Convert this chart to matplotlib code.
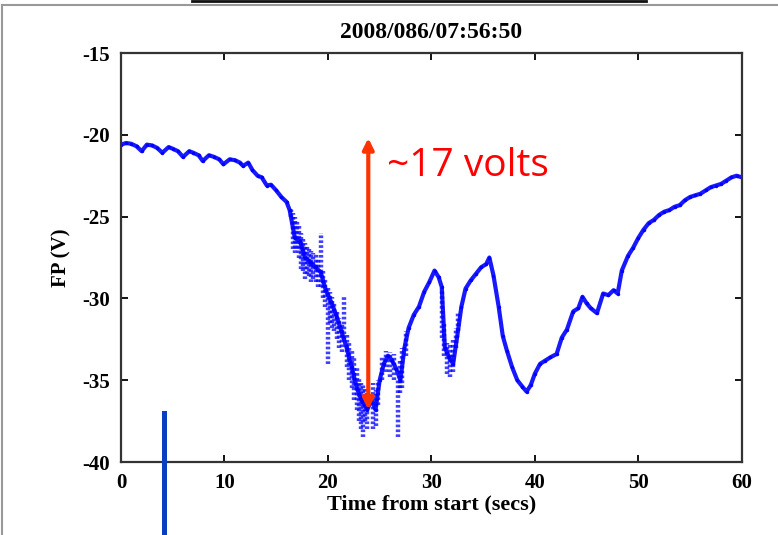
import matplotlib
matplotlib.use("Agg")
import matplotlib.pyplot as plt
from matplotlib.lines import Line2D
from matplotlib.patches import Rectangle

plt.rcParams.update({"font.family": "Liberation Serif", "font.weight": "bold",
                     "axes.linewidth": 1.6, "axes.edgecolor": "#333333",
                     "axes.unicode_minus": False})

# FP 主迹线
t_trace = [0.0, 0.5, 1.0, 1.5, 2.0, 2.5, 3.0, 3.5, 4.0, 4.6, 5.0, 5.5, 6.0, 6.6, 7.0, 7.5, 7.9,
           8.5, 9.0, 9.5, 9.9, 10.5, 11.0, 11.5, 11.8, 12.3, 12.7, 13.2, 13.6, 14.1, 14.5, 15.0,
           15.5, 16.0, 16.3, 16.8, 17.3, 17.8, 18.3, 18.8, 19.3, 19.8, 20.3, 20.8, 21.3, 21.8,
           22.3, 22.8, 23.3, 23.8, 24.2, 24.6, 25.0, 25.4, 25.8, 26.2, 26.6, 27.0, 27.4, 27.8,
           28.3, 28.8, 29.3, 29.8, 30.3, 30.7, 31.0, 31.3, 31.7, 32.1, 32.5, 32.9, 33.3, 33.8,
           34.3, 34.8, 35.3, 35.6, 36.0, 36.5, 36.9, 37.3, 37.8, 38.3, 38.8, 39.2, 39.6, 40.0,
           40.5, 41.0, 41.5, 42.1, 42.6, 43.1, 43.7, 44.2, 44.6, 45.0, 45.4, 46.0, 46.6, 47.1,
           47.6, 48.0, 48.4, 49.0, 49.5, 50.0, 50.5, 51.0, 51.5, 52.0, 52.5, 53.0, 53.5, 54.0,
           54.5, 55.0, 55.5, 56.0, 56.5, 57.0, 57.5, 58.0, 58.5, 59.0, 59.5, 60.0]
v_trace = [-20.6, -20.5, -20.55, -20.7, -21.0, -20.6, -20.65, -20.8, -21.1, -20.75, -20.85, -21.0,
           -21.35, -21.0, -21.1, -21.25, -21.6, -21.25, -21.35, -21.5, -21.8, -21.5, -21.55, -21.7,
           -21.9, -21.7, -22.15, -22.5, -22.6, -23.1, -23.05, -23.4, -23.8, -24.1, -24.6, -26.3,
           -26.5, -27.5, -27.8, -28.1, -28.4, -29.5, -30.2, -31.0, -32.0, -33.0, -34.2, -35.5,
           -36.3, -36.8, -36.2, -36.8, -35.0, -34.0, -33.5, -33.8, -34.3, -35.0, -33.0, -31.8,
           -31.0, -30.5, -29.6, -29.0, -28.3, -28.7, -29.3, -33.0, -33.6, -34.0, -32.3, -30.5,
           -29.4, -28.9, -28.5, -28.1, -27.9, -27.5, -28.6, -30.5, -32.3, -33.2, -34.2, -35.0,
           -35.4, -35.7, -35.3, -34.6, -34.0, -33.8, -33.6, -33.4, -32.4, -31.9, -30.8, -30.6,
           -29.9, -30.3, -30.6, -30.9, -29.7, -29.8, -29.5, -29.7, -28.3, -27.4, -26.9, -26.3,
           -25.8, -25.4, -25.2, -24.9, -24.7, -24.6, -24.4, -24.3, -24.0, -23.8, -23.7, -23.6,
           -23.4, -23.2, -23.1, -23.0, -22.8, -22.6, -22.5, -22.6]

# 噪声段的散点上下沿
t_spread = [16.4, 16.6, 16.8, 17.0, 17.2, 17.4, 17.6, 17.8, 18.0, 18.2, 18.4, 18.6, 18.8, 19.0,
            19.3, 19.5, 19.7, 20.0, 20.2, 20.4, 20.6, 20.9, 21.1, 21.4, 21.6, 21.8, 22.0, 22.3,
            22.5, 22.8, 23.0, 23.2, 23.4, 23.6, 23.8, 24.4, 24.6, 24.8, 25.2, 25.6, 26.0, 26.4,
            26.8, 27.0, 27.2, 27.5, 31.0, 31.2, 31.5, 31.8, 32.1, 32.4, 32.6]
v_lo = [-25.0, -27.0, -27.2, -27.0, -27.5, -28.2, -28.3, -28.8, -28.5, -28.6, -29.0, -28.8, -29.0,
        -29.3, -29.3, -30.0, -30.5, -34.0, -31.5, -31.8, -32.0, -32.5, -33.0, -33.3, -32.5, -34.2,
        -35.0, -35.5, -36.2, -36.8, -37.5, -38.0, -38.5, -37.5, -38.0, -38.0, -37.8, -36.5, -35.0,
        -34.5, -34.8, -35.0, -38.5, -35.8, -35.5, -33.5, -32.4, -33.5, -34.6, -34.8, -34.5, -33.0,
        -32.0]
v_hi = [-24.5, -24.8, -25.0, -25.2, -25.5, -26.0, -26.3, -26.6, -26.8, -27.0, -27.1, -27.2, -27.3,
        -27.5, -26.0, -28.3, -28.8, -29.3, -29.6, -29.9, -30.2, -30.8, -31.2, -31.5, -29.8, -32.2,
        -32.6, -33.2, -33.6, -34.2, -34.8, -35.2, -35.3, -35.5, -35.8, -35.2, -35.6, -35.0, -33.5,
        -33.2, -33.3, -33.4, -35.0, -33.8, -33.0, -32.0, -29.5, -31.5, -32.7, -32.8, -32.5, -31.8,
        -30.8]

x_ticks = [0, 10, 20, 30, 40, 50, 60]
y_ticks = [-40, -35, -30, -25, -20, -15]
arrow_t, arrow_top, arrow_bot = 23.9, -20.2, -36.8

fig = plt.figure(figsize=(7.78, 5.35), dpi=100)
ax = fig.add_axes([0.1555, 0.1364, 0.798, 0.7645])

ax.vlines(t_spread, v_lo, v_hi, color="#0000ff", lw=3.2, ls=(0, (0.6, 0.5)), alpha=0.75)
ax.plot(t_trace, v_trace, color="#0000ff", lw=3, marker=".", ms=3, alpha=0.9)

ax.annotate("", xy=(arrow_t, arrow_bot), xytext=(arrow_t, arrow_top),
            arrowprops=dict(arrowstyle="<|-|>", color="#ff3300", lw=3, mutation_scale=16,
                            shrinkA=0, shrinkB=0))
ax.text(25.7, -21.9, "~17 volts", color="#ff0000", fontsize=28, fontweight="normal",
        family="Open Sans", va="center", ha="left")

ax.set_xlim(0, 60)
ax.set_ylim(-40, -15)
ax.set_xticks(x_ticks)
ax.set_yticks(y_ticks)
ax.tick_params(direction="in", top=True, right=True, length=5, width=1.3, labelsize=15, pad=8)
ax.set_xlabel("Time from start (secs)", fontsize=16, fontweight="bold", labelpad=1)
ax.set_ylabel("FP (V)", fontsize=15, fontweight="bold", labelpad=8)
ax.set_title("2008/086/07:56:50", fontsize=17, fontweight="bold", pad=11)

# 外框与蓝色标记条
fig.add_artist(Line2D([0.003, 0.003], [0, 0.991], transform=fig.transFigure, color="#999999", lw=1.5))
fig.add_artist(Line2D([0.003, 1], [0.991, 0.991], transform=fig.transFigure, color="#999999", lw=1.5))
fig.add_artist(Line2D([0.247, 0.83], [0.999, 0.999], transform=fig.transFigure, color="#111111", lw=2))
fig.add_artist(Rectangle((162 / 778, 0), 5 / 778, 124 / 535, transform=fig.transFigure,
                         color="#0a3fbf", lw=0))

fig.savefig("out.png", dpi=100, facecolor="white")
